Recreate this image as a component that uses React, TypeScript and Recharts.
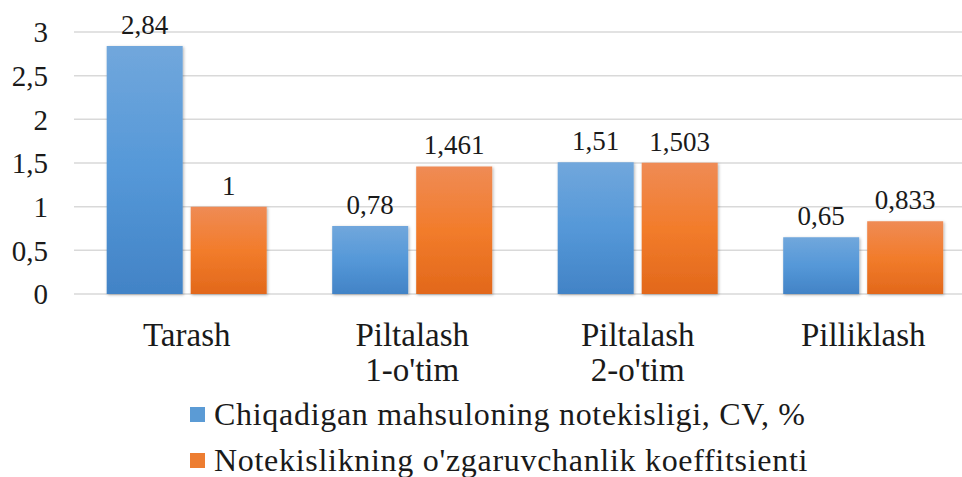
import { BarChart, Bar, XAxis, YAxis, CartesianGrid, LabelList } from 'recharts';

const categories = ['Tarash', "Piltalash\n1-o'tim", "Piltalash\n2-o'tim", 'Pilliklash'];
const cvValues = [2.84, 0.78, 1.51, 0.65];
const coefValues = [1, 1.461, 1.503, 0.833];
const yTicks = [0, 0.5, 1, 1.5, 2, 2.5, 3];
const seriesNames = ["Chiqadigan mahsuloning notekisligi, CV, %", "Notekislikning o'zgaruvchanlik koeffitsienti"];
const seriesColors = ['#5b9bd5', '#ed7d31'];

const FONT = 'Liberation Serif, DejaVu Serif, serif';

const comma = (v: any) => String(v).replace('.', ',');

function CategoryTick({ x, y, payload }: any) {
    const lines = String(payload.value).split('\n');
    return (
        <text x={x} y={y + 44} textAnchor="middle" fill="#1a1a1a" fontSize={33} fontFamily={FONT}>
            {lines.map((ln, i) => (
                <tspan key={i} x={x} dy={i === 0 ? 0 : 35}>{ln}</tspan>
            ))}
        </text>
    );
}

function LegendBox() {
    return (
        <div style={{ position: 'absolute', left: 190, top: 391, fontFamily: FONT, fontSize: 32, letterSpacing: 0.7, color: '#1a1a1a', whiteSpace: 'nowrap' }}>
            {seriesNames.map((n, i) => (
                <div key={i} style={{ display: 'flex', alignItems: 'center', height: 46 }}>
                    <span style={{ width: 15, height: 15, background: seriesColors[i], marginRight: 9, display: 'inline-block' }} />
                    <span style={{ lineHeight: 1 }}>{n}</span>
                </div>
            ))}
        </div>
    );
}

export default function App() {
    const data = categories.map((c, i) => ({ name: c, cv: cvValues[i], coef: coefValues[i] }));

    return (
        <div style={{ position: 'absolute', left: 0, top: 0, width: 962, height: 477, background: '#fff', overflow: 'hidden' }}>
            <BarChart width={962} height={477} data={data} barGap={8} barCategoryGap="14.5%"
                margin={{ top: 32, right: -14, left: 0, bottom: 103 }} style={{ overflow: 'hidden' }}>
                <defs>
                    <linearGradient id="gBlue" x1="0" y1="0" x2="0" y2="1">
                        <stop offset="0%" stopColor="#71a7dc" />
                        <stop offset="50%" stopColor="#5598d8" />
                        <stop offset="100%" stopColor="#4283c6" />
                    </linearGradient>
                    <linearGradient id="gOrange" x1="0" y1="0" x2="0" y2="1">
                        <stop offset="0%" stopColor="#ef8b55" />
                        <stop offset="50%" stopColor="#f27c2b" />
                        <stop offset="100%" stopColor="#e2681b" />
                    </linearGradient>
                    <filter id="shadow" x="-10%" y="-10%" width="130%" height="130%">
                        <feDropShadow dx="1" dy="1" stdDeviation="1.5" floodColor="#000" floodOpacity="0.3" />
                    </filter>
                </defs>
                <CartesianGrid vertical={false} stroke="#d9d9d9" strokeWidth={1.5} />
                <XAxis dataKey="name" axisLine={false} tickLine={false} tick={<CategoryTick />} height={80} interval={0} />
                <YAxis domain={[0, 3]} ticks={yTicks} interval={0} width={74} axisLine={false} tickLine={false}
                    tickSize={0} tickMargin={26} tickFormatter={comma}
                    tick={{ fill: '#1a1a1a', fontSize: 29, fontFamily: FONT }} />
                <Bar dataKey="cv" name={seriesNames[0]} fill="url(#gBlue)" filter="url(#shadow)" isAnimationActive={false}>
                    <LabelList dataKey="cv" position="top" offset={12} formatter={comma}
                        style={{ fill: '#1a1a1a', fontSize: 27, fontFamily: FONT }} />
                </Bar>
                <Bar dataKey="coef" name={seriesNames[1]} fill="url(#gOrange)" filter="url(#shadow)" isAnimationActive={false}>
                    <LabelList dataKey="coef" position="top" offset={12} formatter={comma}
                        style={{ fill: '#1a1a1a', fontSize: 27, fontFamily: FONT }} />
                </Bar>
            </BarChart>
            <LegendBox />
        </div>
    );
}
